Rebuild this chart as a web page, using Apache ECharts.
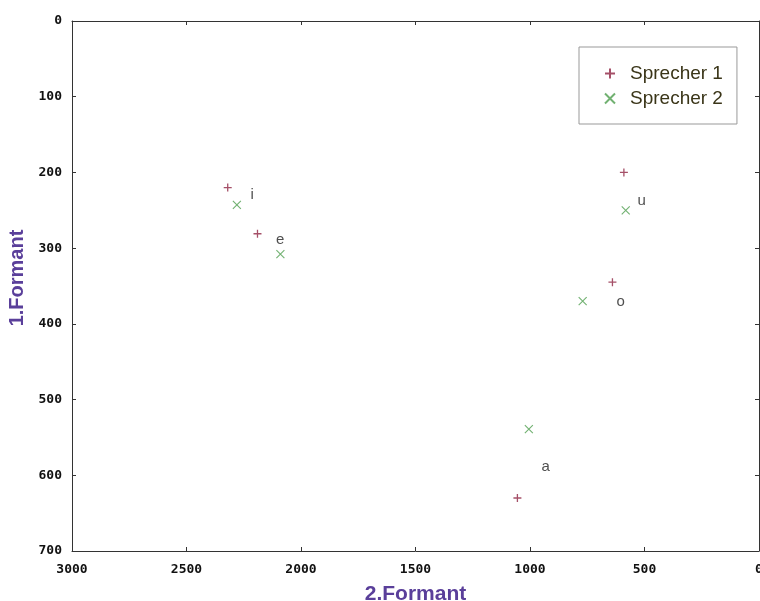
<!DOCTYPE html>
<html>
<head>
<meta charset="utf-8">
<script src="https://cdn.jsdelivr.net/npm/echarts@6/dist/echarts.min.js"></script>
<style>
    html, body { margin: 0; padding: 0; background: #fff; }
    #chart { width: 760px; height: 601px; }
</style>
</head>
<body>
<div id="chart"></div>
<script>
// vowel formant values (F2, F1) per speaker
var vowels = ['i', 'e', 'u', 'o', 'a'];
var speaker1F2 = [2320, 2190, 590, 640, 1055];
var speaker1F1 = [220, 281, 200, 345, 630];
var speaker2F2 = [2280, 2090, 582, 770, 1005];
var speaker2F1 = [243, 308, 250, 370, 539];
// where the vowel letters sit
var labelF2 = [2213, 2091, 512, 604, 932];
var labelF1 = [229, 289, 238, 371, 589];

var tickFont = {fontFamily: 'DejaVu Sans Mono', fontWeight: 'bold', fontSize: 13, color: '#111'};

function pairs(xs, ys) {
    return xs.map(function (x, i) { return [x, ys[i]]; });
}

function plain(v) { return String(v); }

var chart = echarts.init(document.getElementById('chart'));
chart.setOption({
    animation: false,
    grid: {left: 72, right: 1, top: 21, bottom: 50, outerBoundsMode: 'none', containLabel: false},
    legend: {
        orient: 'vertical',
        left: 579,
        top: 47,
        padding: [17, 14, 16, 25],
        itemWidth: 10,
        itemHeight: 10,
        itemGap: 6,
        borderColor: '#999',
        borderWidth: 1,
        textStyle: {fontFamily: 'Liberation Sans', fontSize: 19, color: '#3a3518', padding: [0, 0, 0, 10]},
        data: ['Sprecher 1', 'Sprecher 2']
    },
    xAxis: [{
        type: 'value', min: 0, max: 3000, interval: 500, inverse: true, position: 'bottom',
        name: '2.Formant', nameLocation: 'middle', nameGap: 33,
        nameTextStyle: {fontFamily: 'Liberation Sans', fontWeight: 'bold', fontSize: 21, color: '#5a3f9a'},
        axisLine: {onZero: false, lineStyle: {color: '#333'}},
        axisTick: {inside: true, length: 4, lineStyle: {color: '#333'}},
        axisLabel: Object.assign({margin: 12, formatter: plain}, tickFont),
        splitLine: {show: false}
    }, {
        type: 'value', min: 0, max: 3000, interval: 500, inverse: true, position: 'top',
        axisLine: {onZero: false, lineStyle: {color: '#333'}},
        axisTick: {inside: true, length: 4, lineStyle: {color: '#333'}},
        axisLabel: {show: false},
        splitLine: {show: false}
    }],
    yAxis: [{
        type: 'value', min: 0, max: 700, interval: 100, inverse: true, position: 'left',
        name: '1.Formant', nameLocation: 'middle', nameGap: 45, nameRotate: 90,
        nameTextStyle: {fontFamily: 'Liberation Sans', fontWeight: 'bold', fontSize: 20, color: '#5a3f9a', padding: [0, 0, 0, 16]},
        axisLine: {onZero: false, lineStyle: {color: '#333'}},
        axisTick: {inside: true, length: 4, lineStyle: {color: '#333'}},
        axisLabel: Object.assign({margin: 10, formatter: plain}, tickFont),
        splitLine: {show: false}
    }, {
        type: 'value', min: 0, max: 700, interval: 100, inverse: true, position: 'right',
        axisLine: {onZero: false, lineStyle: {color: '#333'}},
        axisTick: {inside: true, length: 4, lineStyle: {color: '#333'}},
        axisLabel: {show: false},
        splitLine: {show: false}
    }],
    series: [{
        name: 'Sprecher 1',
        type: 'scatter',
        symbol: 'path://M0,5L10,5M5,0L5,10',
        symbolSize: 8,
        itemStyle: {color: 'transparent', borderColor: '#8e2442', borderWidth: 1.3},
        data: pairs(speaker1F2, speaker1F1)
    }, {
        name: 'Sprecher 2',
        type: 'scatter',
        symbol: 'path://M0,0L10,10M10,0L0,10',
        symbolSize: 8,
        itemStyle: {color: 'transparent', borderColor: '#4e9e4e', borderWidth: 1.1},
        data: pairs(speaker2F2, speaker2F1)
    }, {
        name: 'Vokale',
        type: 'scatter',
        symbolSize: 0,
        silent: true,
        label: {
            show: true, position: 'inside',
            fontFamily: 'Liberation Sans', fontSize: 15, color: '#222',
            formatter: function (p) { return p.name; }
        },
        data: vowels.map(function (v, i) { return {name: v, value: [labelF2[i], labelF1[i]]}; })
    }]
});
</script>
</body>
</html>
